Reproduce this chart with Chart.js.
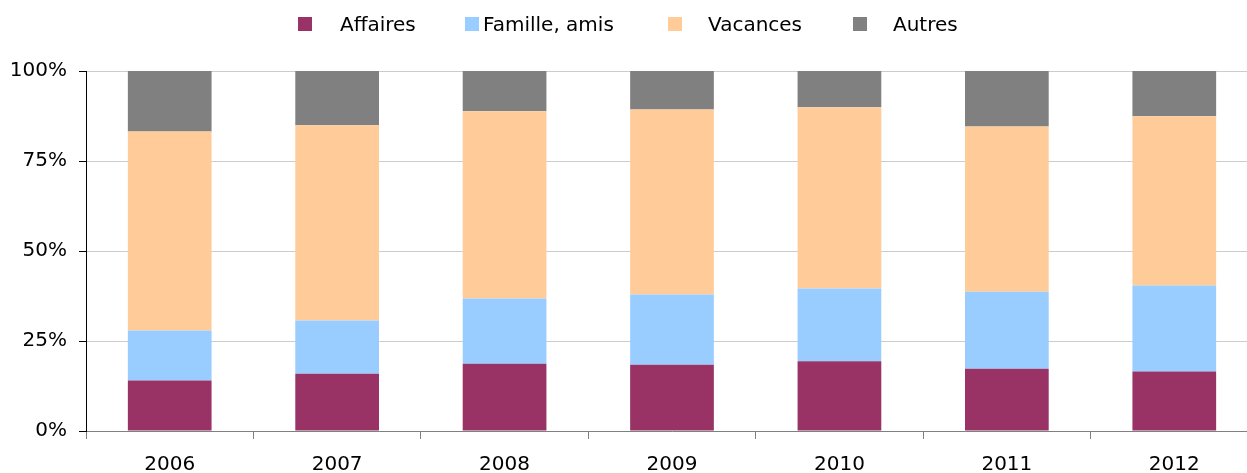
<!DOCTYPE html>
<html>
<head>
<meta charset="utf-8">
<script src="https://cdn.jsdelivr.net/npm/chart.js@4/dist/chart.umd.min.js"></script>
<style>
  html, body { margin: 0; padding: 0; background: #fff; overflow: hidden; width: 1247px; height: 473px; }
  #wrap { position: absolute; left: 0; top: 0; width: 1258px; height: 473px; }
  #legend { position: absolute; left: 0; top: 0; width: 1247px; height: 50px; font-family: "DejaVu Sans", Verdana, sans-serif; font-size: 20px; color: #000; z-index: 2; }
  .item { position: absolute; top: 12px; height: 24px; line-height: 24px; white-space: nowrap; }
  .box { position: absolute; width: 14px; height: 14px; }
</style>
</head>
<body>
<div id="legend"></div>
<div id="wrap"><canvas id="c"></canvas></div>
<script>
const categories = ["2006", "2007", "2008", "2009", "2010", "2011", "2012"];
const seriesNames = ["Affaires", "Famille, amis", "Vacances", "Autres"];
const affaires = [14.0, 15.9, 18.7, 18.4, 19.4, 17.3, 16.5];
const famille  = [13.9, 14.8, 18.1, 19.5, 20.2, 21.4, 23.9];
const vacances = [55.3, 54.2, 52.0, 51.4, 50.3, 45.9, 47.0];
const autres   = [16.8, 15.1, 11.2, 10.7, 10.1, 15.4, 12.6];
const yTicks = [0, 25, 50, 75, 100];

const colors = ["#993366", "#99CCFF", "#FFCC99", "#808080"];
const seriesValues = [affaires, famille, vacances, autres];

// HTML legend (Excel-like slot layout)
const legendLayout = [
  { box: 298, text: 340 },
  { box: 465, text: 483 },
  { box: 668, text: 708 },
  { box: 853, text: 893 }
];
const legendEl = document.getElementById('legend');
seriesNames.forEach((name, i) => {
  const b = document.createElement('div');
  b.className = 'box';
  b.style.left = legendLayout[i].box + 'px';
  b.style.top = '17px';
  b.style.background = colors[i];
  legendEl.appendChild(b);
  const t = document.createElement('div');
  t.className = 'item';
  t.style.left = legendLayout[i].text + 'px';
  t.textContent = name;
  legendEl.appendChild(t);
});

const font = { family: '"DejaVu Sans", Verdana, sans-serif', size: 20 };

new Chart(document.getElementById('c'), {
  type: 'bar',
  data: {
    labels: categories,
    datasets: seriesNames.map((name, i) => ({
      label: name,
      data: seriesValues[i],
      backgroundColor: colors[i],
      borderWidth: 0,
      categoryPercentage: 1.0,
      barPercentage: 0.5
    }))
  },
  options: {
    responsive: true,
    maintainAspectRatio: false,
    animation: false,
    layout: { padding: { top: 71, left: 0, right: 0, bottom: 0 } },
    plugins: { legend: { display: false }, tooltip: { enabled: false } },
    scales: {
      x: {
        stacked: true,
        afterFit: (s) => { s.height = 42; },
        grid: { offset: true, drawOnChartArea: false, drawTicks: true, tickLength: 8, color: '#808080', lineWidth: 1 },
        border: { display: true, color: '#808080', width: 1 },
        ticks: { font: font, color: '#000', padding: 14, maxRotation: 0 }
      },
      y: {
        stacked: true,
        min: 0, max: 100,
        afterFit: (s) => { s.width = 86; },
        afterBuildTicks: (axis) => { axis.ticks = yTicks.map(v => ({ value: v })); },
        grid: { color: '#cccccc', lineWidth: 1, tickLength: 7, tickColor: '#000' },
        border: { display: true, color: '#000', width: 1 },
        ticks: { font: font, color: '#000', padding: 12, callback: v => v + '%' }
      }
    }
  }
});
</script>
</body>
</html>
